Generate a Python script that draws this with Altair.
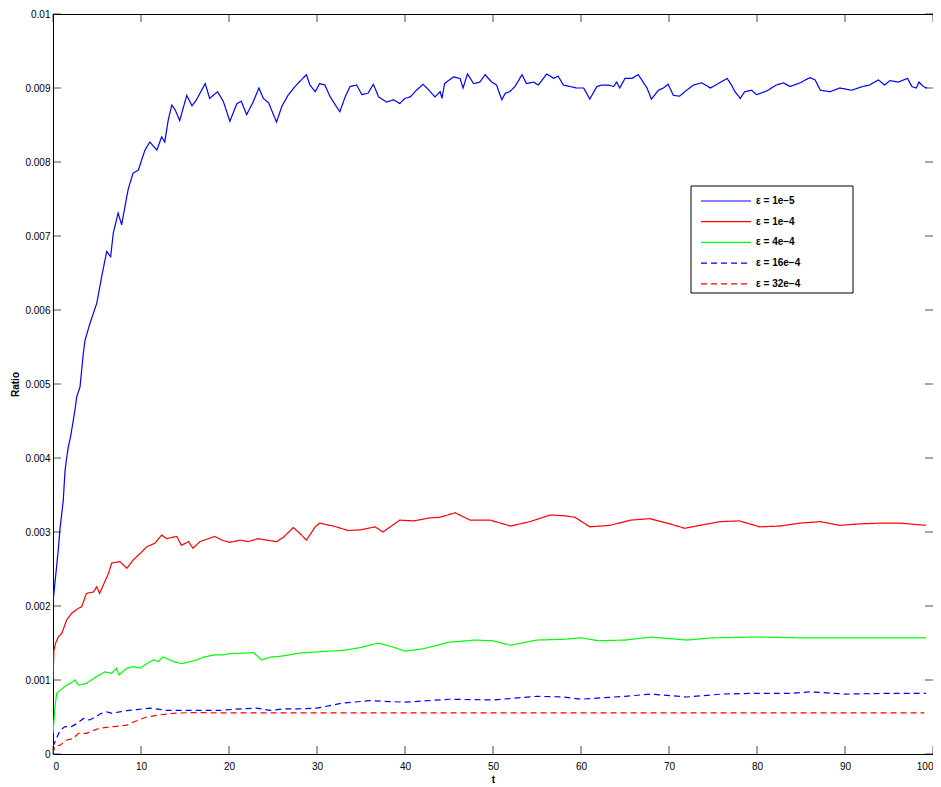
import altair as alt
import pandas as pd

# Values, in units of 0.001 (ratio = value * SCALE)
SCALE = 1e-3

t_1e5 = [0.0, 0.6, 0.8, 1.17, 1.36, 1.55, 1.74, 2.0, 2.5, 2.7, 3.07, 3.45, 3.64, 4.2, 4.97, 5.53, 6.1, 6.55,
         6.85, 7.4, 7.8, 8.18, 8.56, 9.1, 9.7, 10.08, 10.45, 11.0, 11.8, 12.35, 12.7, 13.1, 13.5, 13.9, 14.4,
         15.2, 15.8, 16.3, 17.3, 17.8, 18.7, 19.35, 20.1, 20.9, 21.4, 22.0, 22.7, 23.4, 23.9, 24.5, 25.4, 26.0,
         26.7, 27.5, 28.3, 28.8, 29.2, 29.8, 30.3, 30.9, 31.5, 32.2, 32.6, 33.2, 33.75, 34.5, 35.1, 35.8, 36.4,
         37.0, 37.9, 38.7, 39.4, 40.0, 40.6, 41.3, 42.05, 42.65, 43.4, 44.0, 44.2, 44.5, 45.5, 46.25, 46.6, 47.1,
         47.8, 48.5, 49.1, 49.85, 50.4, 51.0, 51.4, 51.9, 52.5, 53.3, 53.8, 54.6, 55.15, 56.1, 56.9, 57.4, 58.0,
         58.75, 59.5, 60.3, 61.0, 61.8, 62.35, 63.1, 63.7, 64.05, 64.4, 65.0, 65.8, 66.5, 66.9, 67.5, 68.0, 68.8,
         69.35, 69.9, 70.5, 71.2, 72.0, 72.8, 73.7, 74.7, 75.6, 76.6, 77.1, 77.5, 78.1, 78.6, 79.4, 79.95, 81.1,
         82.2, 83.0, 83.75, 84.9, 86.0, 86.6, 87.2, 88.3, 89.4, 90.75, 92.0, 92.8, 93.8, 94.5, 95.1, 96.05, 97.1,
         97.6, 98.1, 98.4, 98.9, 99.3]
v_1e5 = [2.05, 2.76, 3.05, 3.43, 3.82, 4.0, 4.15, 4.29, 4.65, 4.83, 4.96, 5.42, 5.59, 5.82, 6.09, 6.45, 6.79, 6.72,
         7.04, 7.31, 7.15, 7.40, 7.64, 7.85, 7.89, 8.03, 8.16, 8.27, 8.16, 8.34, 8.27, 8.57, 8.77, 8.70, 8.56,
         8.90, 8.76, 8.84, 9.06, 8.86, 8.95, 8.82, 8.55, 8.79, 8.82, 8.64, 8.80, 9.00, 8.86, 8.80, 8.54, 8.75,
         8.90, 9.02, 9.12, 9.18, 9.04, 8.95, 9.06, 9.04, 8.88, 8.75, 8.68, 8.88, 9.02, 9.04, 8.91, 8.93, 9.05,
         8.88, 8.81, 8.84, 8.79, 8.86, 8.88, 8.97, 9.05, 8.98, 8.88, 8.95, 8.86, 9.06, 9.15, 9.13, 9.00, 9.19,
         9.06, 9.08, 9.18, 9.08, 9.04, 8.84, 8.93, 8.95, 9.02, 9.18, 9.06, 9.08, 9.04, 9.19, 9.13, 9.16, 9.04,
         9.02, 9.00, 9.00, 8.85, 9.02, 9.04, 9.04, 9.02, 9.08, 9.00, 9.13, 9.13, 9.18, 9.11, 9.00, 8.85, 8.97,
         9.00, 9.05, 8.90, 8.89, 8.97, 9.04, 9.07, 9.00, 9.06, 9.13, 9.04, 8.95, 8.86, 8.95, 8.97, 8.91, 8.96,
         9.04, 9.07, 9.02, 9.07, 9.14, 9.11, 8.97, 8.95, 9.00, 8.97, 9.02, 9.04, 9.11, 9.04, 9.10, 9.08, 9.13,
         9.02, 9.00, 9.08, 9.02, 9.00]

t_1e4 = [0.0, 0.1, 0.3, 0.6, 1.0, 1.55, 2.1, 2.9, 3.26, 3.8, 4.6, 4.97, 5.3, 6.3, 6.67, 7.6, 8.4, 9.1, 9.9, 10.65,
         11.6, 12.35, 12.9, 14.06, 14.6, 15.4, 15.9, 16.7, 17.65, 18.4, 19.2, 20.1, 21.25, 22.2, 23.3, 24.3, 25.4,
         26.2, 27.3, 27.9, 28.8, 29.8, 30.3, 31.85, 33.55, 35.0, 36.6, 37.5, 39.4, 41.0, 42.8, 44.0, 45.7, 47.4,
         49.7, 52.0, 54.2, 56.5, 58.0, 59.3, 61.0, 63.3, 65.6, 67.8, 70.1, 71.8, 73.5, 75.8, 78.0, 80.3, 82.6,
         84.9, 87.2, 89.4, 91.7, 94.0, 96.25, 99.2]
v_1e4 = [1.0, 1.4, 1.50, 1.58, 1.63, 1.81, 1.90, 1.97, 1.99, 2.17, 2.19, 2.26, 2.17, 2.44, 2.58, 2.60, 2.51, 2.62,
         2.71, 2.80, 2.85, 2.96, 2.91, 2.94, 2.82, 2.87, 2.78, 2.87, 2.91, 2.94, 2.89, 2.86, 2.89, 2.87, 2.91,
         2.89, 2.87, 2.93, 3.06, 3.00, 2.89, 3.07, 3.12, 3.08, 3.02, 3.03, 3.07, 3.00, 3.16, 3.15, 3.19, 3.20,
         3.26, 3.16, 3.16, 3.08, 3.14, 3.23, 3.22, 3.20, 3.07, 3.09, 3.16, 3.18, 3.11, 3.05, 3.09, 3.14, 3.15,
         3.07, 3.08, 3.12, 3.14, 3.09, 3.11, 3.12, 3.12, 3.09]

t_4e4 = [0.0, 0.23, 0.42, 0.8, 1.55, 2.3, 2.5, 2.9, 3.8, 4.6, 5.3, 5.9, 6.67, 7.2, 7.5, 8.4, 9.1, 9.9, 10.65, 11.4,
         11.97, 12.5, 13.7, 14.6, 15.6, 16.3, 17.1, 18.4, 19.35, 20.3, 21.25, 22.8, 23.7, 24.7, 25.8, 26.9, 27.7,
         30.0, 33.0, 35.0, 37.0, 38.5, 40.0, 42.0, 45.0, 48.0, 50.0, 52.0, 55.0, 58.0, 60.0, 62.0, 65.0, 68.0,
         72.0, 75.0, 80.0, 85.0, 90.0, 95.0, 99.2]
v_4e4 = [0.28, 0.64, 0.82, 0.86, 0.93, 0.98, 1.00, 0.93, 0.955, 1.02, 1.07, 1.11, 1.09, 1.16, 1.07, 1.16, 1.18,
         1.16, 1.22, 1.27, 1.25, 1.31, 1.25, 1.22, 1.25, 1.27, 1.31, 1.34, 1.34, 1.36, 1.36, 1.37, 1.27, 1.31,
         1.32, 1.34, 1.36, 1.38, 1.40, 1.44, 1.50, 1.45, 1.39, 1.42, 1.51, 1.54, 1.53, 1.47, 1.54, 1.55, 1.57,
         1.53, 1.54, 1.58, 1.54, 1.57, 1.58, 1.57, 1.57, 1.57, 1.57]

t_16e4 = [0.0, 0.4, 0.8, 1.36, 2.1, 2.7, 3.45, 4.2, 4.8, 5.5, 6.1, 6.7, 7.6, 8.4, 9.5, 11.0, 12.9, 15.6, 19.0,
          21.25, 23.1, 24.7, 26.2, 27.9, 30.0, 33.0, 36.0, 40.0, 45.0, 50.0, 55.0, 58.0, 60.0, 65.0, 68.0, 72.0,
          76.0, 80.0, 84.0, 86.0, 90.0, 95.0, 99.2]
v_16e4 = [0.10, 0.21, 0.32, 0.37, 0.37, 0.41, 0.48, 0.46, 0.50, 0.55, 0.57, 0.55, 0.57, 0.585, 0.60, 0.62, 0.59,
          0.59, 0.59, 0.61, 0.62, 0.59, 0.61, 0.61, 0.62, 0.69, 0.72, 0.70, 0.74, 0.73, 0.78, 0.77, 0.74, 0.78,
          0.81, 0.77, 0.81, 0.82, 0.82, 0.84, 0.81, 0.82, 0.82]

t_32e4 = [0.0, 0.2, 0.8, 1.55, 2.3, 2.9, 3.8, 5.3, 6.85, 8.4, 9.3, 10.65, 12.2, 13.7, 15.6, 20.0, 30.0, 40.0, 50.0,
          60.0, 70.0, 80.0, 90.0, 99.0]
v_32e4 = [0.01, 0.10, 0.12, 0.19, 0.21, 0.28, 0.28, 0.35, 0.37, 0.39, 0.44, 0.50, 0.53, 0.55, 0.56, 0.555, 0.555,
          0.555, 0.555, 0.555, 0.555, 0.555, 0.555, 0.555]

labels = ["ε = 1e−5", "ε = 1e−4", "ε = 4e−4", "ε = 16e−4", "ε = 32e−4"]
colors = ["#0000ff", "#ff0000", "#00ff00", "#0000ff", "#ff0000"]
dashes = [[1, 0], [1, 0], [1, 0], [6, 4], [6, 4]]

x_ticks = [0, 10, 20, 30, 40, 50, 60, 70, 80, 90, 100]
y_ticks = [0, 0.001, 0.002, 0.003, 0.004, 0.005, 0.006, 0.007, 0.008, 0.009, 0.01]

series_t = [t_1e5, t_1e4, t_4e4, t_16e4, t_32e4]
series_v = [v_1e5, v_1e4, v_4e4, v_16e4, v_32e4]

rows = []
for lab, ts, vs in zip(labels, series_t, series_v):
    for i, (t, v) in enumerate(zip(ts, vs)):
        rows.append({"series": lab, "t": t, "ratio": v * SCALE, "order": i})
df = pd.DataFrame(rows)

FONT = "Liberation Sans"

xscale = alt.Scale(domain=[0, 100], nice=False, zero=False)
yscale = alt.Scale(domain=[0, 0.01], nice=False)

# legend frame (pixel box inside the plot area, like MATLAB's legend box)
LEG_X, LEG_Y, LEG_W, LEG_H = 638, 172, 162, 107

legend_box = alt.Chart(alt.Data(values=[{}])).mark_rect(
    fill="white", stroke="black", strokeWidth=1
).encode(
    x=alt.value(LEG_X), x2=alt.value(LEG_X + LEG_W),
    y=alt.value(LEG_Y), y2=alt.value(LEG_Y + LEG_H),
)

lines = alt.Chart(df).mark_line(strokeWidth=1.2, clip=True).encode(
    x=alt.X("t:Q", scale=xscale,
            axis=alt.Axis(values=x_ticks, title="t", titleY=25, titleBaseline="middle")),
    y=alt.Y("ratio:Q", scale=yscale,
            axis=alt.Axis(values=y_ticks, format="~g", title="Ratio", titleX=-38,
                          titleBaseline="middle")),
    color=alt.Color("series:N", scale=alt.Scale(domain=labels, range=colors), title=None),
    strokeDash=alt.StrokeDash("series:N", scale=alt.Scale(domain=labels, range=dashes), title=None),
    order="order:Q",
)

xt = pd.DataFrame({"t": x_ticks})
yt = pd.DataFrame({"ratio": y_ticks})

tick_style = dict(size=8, thickness=1, color="black")
bottom_ticks = alt.Chart(xt).mark_tick(orient="vertical", yOffset=-4, **tick_style).encode(
    x=alt.X("t:Q", scale=xscale), y=alt.datum(0))
top_ticks = alt.Chart(xt).mark_tick(orient="vertical", yOffset=4, **tick_style).encode(
    x=alt.X("t:Q", scale=xscale), y=alt.datum(0.01))
left_ticks = alt.Chart(yt).mark_tick(orient="horizontal", xOffset=4, **tick_style).encode(
    y=alt.Y("ratio:Q", scale=yscale), x=alt.datum(0))
right_ticks = alt.Chart(yt).mark_tick(orient="horizontal", xOffset=-4, **tick_style).encode(
    y=alt.Y("ratio:Q", scale=yscale), x=alt.datum(100))

chart = alt.layer(lines, bottom_ticks, top_ticks, left_ticks, right_ticks, legend_box).properties(
    width=880, height=740,
    padding={"left": 45, "top": 6, "right": 0, "bottom": 30},
    autosize=alt.AutoSizeParams(type="none"),
    background="white",
).configure_view(
    stroke="black", strokeWidth=1,
).configure_axis(
    grid=False, ticks=False, tickSize=0, domain=False,
    labelFont=FONT, labelFontSize=10, labelColor="black",
    titleFont=FONT, titleFontSize=10, titleFontWeight="bold", titleColor="black",
).configure_axisBottom(
    labelPadding=7,
).configure_axisLeft(
    labelPadding=3,
).configure_legend(
    orient="none", legendX=LEG_X, legendY=LEG_Y,
    strokeColor="transparent", fillColor="transparent", padding=9,
    labelFont=FONT, labelFontSize=10, labelFontWeight="bold", labelColor="black",
    symbolType="M-5,0H5", symbolSize=100, symbolStrokeWidth=1.2, symbolOffset=20,
    labelOffset=24, rowPadding=9.7,
)

chart.save("out.html", embed_options={"renderer": "svg", "actions": False})
